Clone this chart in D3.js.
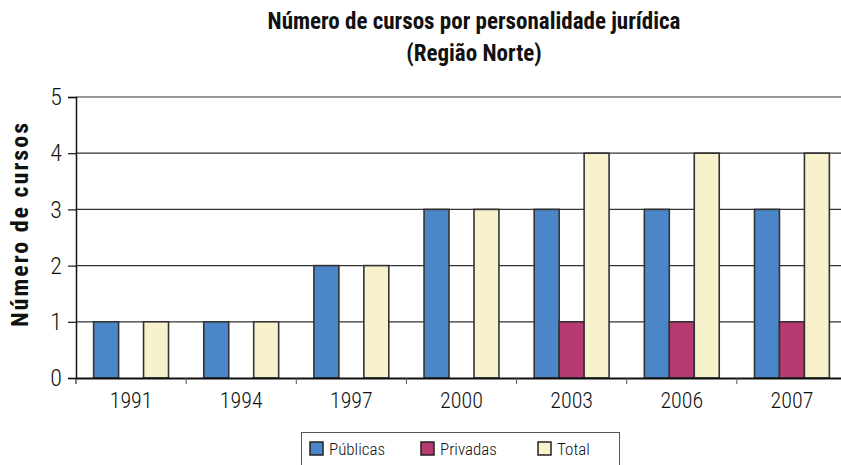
<!DOCTYPE html>
<html><head><meta charset="utf-8">
<script src="https://cdn.jsdelivr.net/npm/d3@7"></script>
<style>
body{margin:0;background:#fff;}
svg{display:block;}
text{font-family:"Liberation Sans Narrow","Arial Narrow","Roboto Condensed","Liberation Sans",sans-serif;fill:#111;}
</style></head>
<body>
<svg id="c" width="841" height="465"></svg>
<script>
const categories = ["1991","1994","1997","2000","2003","2006","2007"];
const seriesNames = ["Públicas","Privadas","Total"];
const publicas = [1,1,2,3,3,3,3];
const privadas = [0,0,0,0,1,1,1];
const total = [1,1,2,3,4,4,4];
const yTicks = [0,1,2,3,4,5];
const colors = ["#4A86C8","#B83A73","#F7F2CC"];
const titleLines = ["Número de cursos por personalidade jurídica","(Região Norte)"];
const yLabel = "Número de cursos";

const svg = d3.select("#c");
const m = {left:76, top:97, right:847, bottom:378};
const x = d3.scaleBand().domain(categories).range([m.left, m.right]).paddingInner(0.32).paddingOuter(0.16);
const x0 = d3.scaleBand().domain(categories).range([m.left, m.right]);
const xs = d3.scaleBand().domain(seriesNames).range([0, x.bandwidth()]);
const y = d3.scaleLinear().domain([0,5]).range([m.bottom, m.top]);

// gridlines
svg.append("g").selectAll("line").data(yTicks.filter(d=>d>0)).join("line")
  .attr("x1", m.left).attr("x2", m.right)
  .attr("y1", d=>y(d)).attr("y2", d=>y(d))
  .attr("stroke","#333").attr("stroke-width",1.2);

// y axis
const ya = svg.append("g").attr("transform",`translate(${m.left},0)`)
  .call(d3.axisLeft(y).tickValues(yTicks).tickFormat(d3.format("d")).tickSize(8).tickPadding(6));
ya.select(".domain").attr("stroke","#111").attr("stroke-width",1.5);
ya.selectAll(".tick line").attr("stroke","#111").attr("stroke-width",1.2);
ya.selectAll(".tick text").attr("font-size",24).attr("font-weight",300).attr("fill","#111");

// bars
const data = categories.map((c,i)=>({c, vals:[publicas[i],privadas[i],total[i]]}));
const g = svg.append("g");
data.forEach(d=>{
  d.vals.forEach((v,j)=>{
    if(v<=0) return;
    g.append("rect")
      .attr("x", x(d.c)+xs(seriesNames[j]))
      .attr("y", y(v))
      .attr("width", xs.bandwidth())
      .attr("height", y(0)-y(v))
      .attr("fill", colors[j]).attr("stroke","#333").attr("stroke-width",1.6);
  });
});

// x axis
const xa = svg.append("g").attr("transform",`translate(0,${m.bottom})`)
  .call(d3.axisBottom(x0).tickSize(0).tickPadding(14));
xa.select(".domain").attr("stroke","#111").attr("stroke-width",2);
xa.selectAll(".tick text").attr("font-size",22).attr("font-weight",300).attr("fill","#111");
// ticks between categories
svg.append("g").selectAll("line").data(categories.slice(1)).join("line")
  .attr("x1", d=>x0(d)).attr("x2", d=>x0(d))
  .attr("y1", m.bottom).attr("y2", m.bottom+6)
  .attr("stroke","#555").attr("stroke-width",1);
svg.append("line").attr("x1",m.left).attr("x2",m.left).attr("y1",m.bottom).attr("y2",m.bottom+6).attr("stroke","#111");

// title
svg.append("g").selectAll("text").data(titleLines).join("text")
  .attr("x", 474).attr("y",(d,i)=>29+i*32)
  .attr("text-anchor","middle").attr("font-size",23).attr("font-weight","bold")
  .text(d=>d);

// y label
svg.append("text").attr("transform","translate(28,224) rotate(-90)")
  .attr("text-anchor","middle").attr("font-size",24).attr("font-weight","bold")
  .attr("letter-spacing","2")
  .text(yLabel);

// legend
const lg = svg.append("g");
lg.append("rect").attr("x",301.5).attr("y",432.5).attr("width",318).attr("height",40)
  .attr("fill","#fff").attr("stroke","#555").attr("stroke-width",1);
const lx = [310, 421, 538];
seriesNames.forEach((s,i)=>{
  lg.append("rect").attr("x",lx[i]).attr("y",442).attr("width",13).attr("height",13)
    .attr("fill",colors[i]).attr("stroke","#222").attr("stroke-width",1.5);
  lg.append("text").attr("x",lx[i]+19).attr("y",455).attr("font-size",17).attr("font-weight",300).text(s);
});
</script>
</body></html>
